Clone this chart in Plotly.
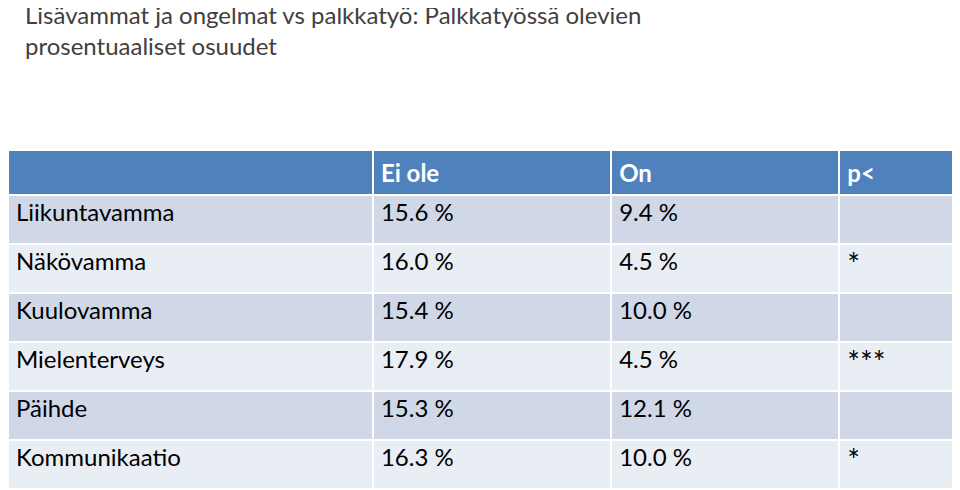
import plotly.graph_objects as go

headers = ["", "Ei ole", "On", "p<"]
categories = ["Liikuntavamma", "Näkövamma", "Kuulovamma", "Mielenterveys", "Päihde", "Kommunikaatio"]
ei_ole = ["15.6 %", "16.0 %", "15.4 %", "17.9 %", "15.3 %", "16.3 %"]
on = ["9.4 %", "4.5 %", "10.0 %", "4.5 %", "12.1 %", "10.0 %"]
p_values = ["", "*", "", "***", "", "*"]

row_colors = ["#D0D8E8" if i % 2 == 0 else "#E9EDF4" for i in range(len(categories))]

fig = go.Figure(go.Table(
    domain=dict(x=[0, 1], y=[0, 1 - 142/490]),
    columnwidth=[363, 237, 227, 128],
    header=dict(values=[f"<b>{h}</b>" if h else "" for h in headers],
                fill_color="#4F81BD", line=dict(color="white", width=2),
                font=dict(color="white", size=24, family="Lato"),
                align="left", height=45),
    cells=dict(values=[categories, ei_ole, on, p_values],
               fill_color=[row_colors]*4, line=dict(color="white", width=2),
               font=dict(color="black", size=[24, 24, 24, 30], family="Lato"),
               align="left", height=49),
))
fig.add_annotation(text="Lisävammat ja ongelmat vs palkkatyö: Palkkatyössä olevien<br>prosentuaaliset osuudet",
                   xref="paper", yref="paper", x=15/960, y=1.02, xanchor="left", yanchor="top",
                   showarrow=False, align="left",
                   font=dict(size=24, color="#404040", family="Lato"))
fig.update_layout(width=960, height=490, margin=dict(l=0, r=0, t=0, b=0),
                  paper_bgcolor="white")
fig.write_html("out.html")
